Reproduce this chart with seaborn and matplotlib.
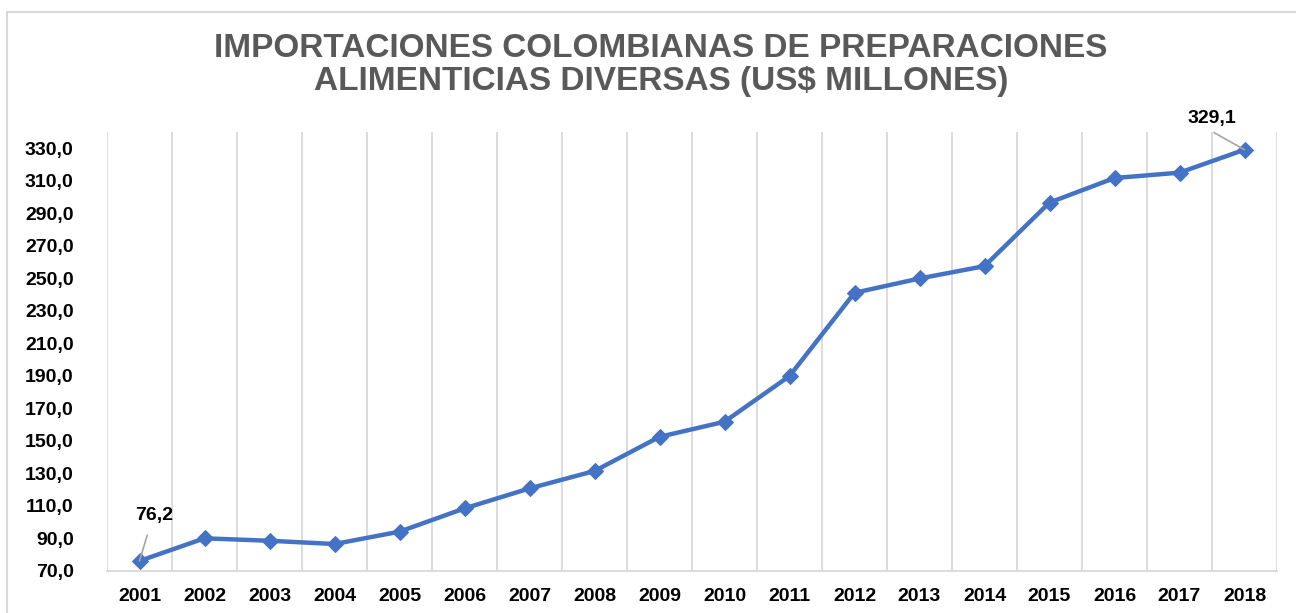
import matplotlib
matplotlib.use('Agg')
import numpy as np
import pandas as pd
import matplotlib.pyplot as plt
from matplotlib.patches import Rectangle
from matplotlib.ticker import FixedLocator
import seaborn as sns

# Datos (US$ millones)
years = [2001, 2002, 2003, 2004, 2005, 2006, 2007, 2008, 2009,
         2010, 2011, 2012, 2013, 2014, 2015, 2016, 2017, 2018]
imports = [76.2, 90.1, 88.6, 86.6, 94.2, 108.5, 120.8, 131.5, 152.5,
           161.8, 189.9, 241.1, 249.9, 257.5, 296.6, 311.7, 315.0, 329.1]
y_ticks = [70, 90, 110, 130, 150, 170, 190, 210, 230, 250, 270, 290, 310, 330]
title = 'IMPORTACIONES COLOMBIANAS DE PREPARACIONES\nALIMENTICIAS DIVERSAS (US$ MILLONES)'

df = pd.DataFrame({'year': years, 'value': imports})

sns.set_style('white')
plt.rcParams['font.family'] = ['Liberation Sans', 'DejaVu Sans']
plt.rcParams['text.color'] = 'black'

fig = plt.figure(figsize=(12.96, 6.13), dpi=100, facecolor='white')
ax = fig.add_axes([107 / 1296, 1 - 571 / 613, (1277 - 107) / 1296, (571 - 132) / 613])

sns.lineplot(data=df, x='year', y='value', ax=ax, color='#4472C4', linewidth=3.2,
             marker='D', markersize=8.5, markeredgecolor='#4472C4', zorder=3)

ax.set_xlim(years[0] - 0.5, years[-1] + 0.5)
ax.set_ylim(70, 340)
ax.set_xticks(years)
ax.set_xticklabels([str(y) for y in years], fontsize=14, fontweight='bold')
ax.set_yticks(y_ticks)
ax.set_yticklabels([f'{v:.1f}'.replace('.', ',') for v in y_ticks], fontsize=14, fontweight='bold')
ax.tick_params(axis='both', length=0, colors='black')
ax.tick_params(axis='y', pad=24)
ax.tick_params(axis='x', pad=12)

# lineas verticales entre categorias
bounds = [y - 0.5 for y in years] + [years[-1] + 0.5]
ax.xaxis.set_minor_locator(FixedLocator(bounds))
ax.grid(which='minor', axis='x', color='#d9d9d9', linewidth=1.3)
ax.grid(which='major', visible=False)
for s in ['top', 'right', 'left']:
    ax.spines[s].set_visible(False)
ax.spines['bottom'].set_color('#d9d9d9')
ax.spines['bottom'].set_linewidth(1.3)
ax.set_xlabel('')
ax.set_ylabel('')

# etiquetas de primer y ultimo valor
ax.annotate(f'{imports[0]:.1f}'.replace('.', ','), xy=(years[0], imports[0]),
            xytext=(years[0] + 0.23, imports[0] + 28), fontsize=14, fontweight='bold',
            color='black', ha='center', va='center',
            arrowprops=dict(arrowstyle='-', color='#a6a6a6', lw=1.2, relpos=(0.4, 0),
                            shrinkA=6, shrinkB=0))
ax.annotate(f'{imports[-1]:.1f}'.replace('.', ','), xy=(years[-1], imports[-1]),
            xytext=(years[-1] - 0.5, imports[-1] + 19), fontsize=14, fontweight='bold',
            color='black', ha='center', va='center', annotation_clip=False,
            arrowprops=dict(arrowstyle='-', color='#a6a6a6', lw=1.2, relpos=(0.35, 0),
                            shrinkA=3, shrinkB=0))

fig.text(661 / 1296, 1 - 65 / 613, title, ha='center', va='center', fontsize=24,
         fontweight='bold', color='#595959', linespacing=1.05)

# marco del grafico
fig.patches.append(Rectangle((7 / 1296, -0.1), 1.2, 1 - 12 / 613 + 0.1,
                             transform=fig.transFigure, fill=False,
                             edgecolor='#d9d9d9', linewidth=1.5))

fig.savefig('out.png', dpi=100, facecolor='white')
